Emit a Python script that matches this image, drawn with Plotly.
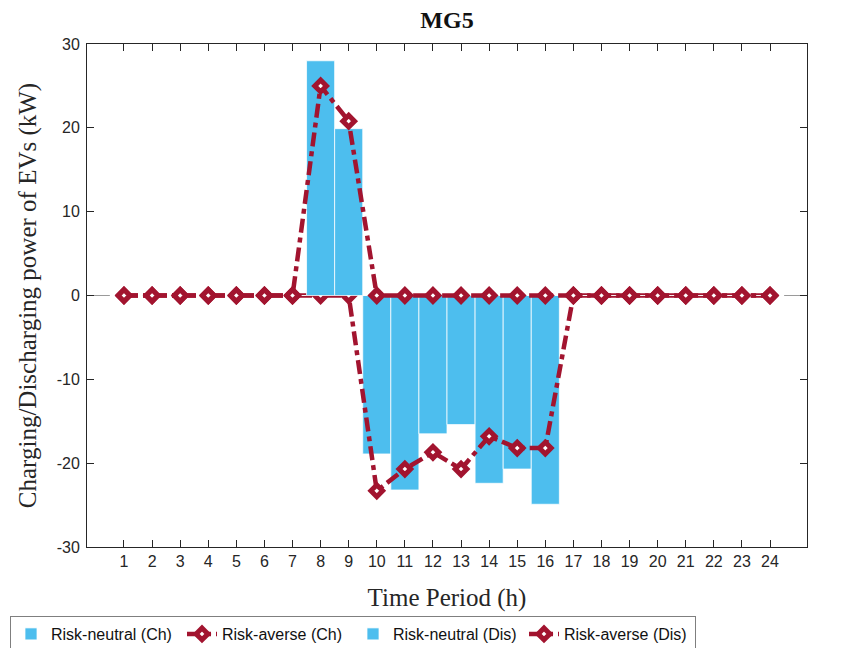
import plotly.graph_objects as go

hours = [1, 2, 3, 4, 5, 6, 7, 8, 9, 10, 11, 12, 13, 14, 15, 16, 17, 18, 19, 20, 21, 22, 23, 24]
rn_ch = [0, 0, 0, 0, 0, 0, 0, 28.0, 19.9, 0, 0, 0, 0, 0, 0, 0, 0, 0, 0, 0, 0, 0, 0, 0]
rn_dis = [0, 0, 0, 0, 0, 0, 0, 0, 0, -18.9, -23.2, -16.5, -15.4, -22.4, -20.7, -24.9, 0, 0, 0, 0, 0, 0, 0, 0]
ra_ch = [0, 0, 0, 0, 0, 0, 0, 25.0, 20.8, 0, 0, 0, 0, 0, 0, 0, 0, 0, 0, 0, 0, 0, 0, 0]
ra_dis = [0, 0, 0, 0, 0, 0, 0, 0, 0, -23.3, -20.7, -18.7, -20.7, -16.8, -18.2, -18.2, 0, 0, 0, 0, 0, 0, 0, 0]
y_ticks = [-30, -20, -10, 0, 10, 20, 30]
y_tick_labels = ["-30", "-20", "-10", "0", "10", "20", "30"]
x_tick_labels = [str(h) for h in hours]

BLUE = "#4DBEEE"
RED = "#A2142F"
DASH = "14px,5px,5px,5px"
marker_style = dict(symbol="diamond", size=9, color="white", line=dict(color=RED, width=5))
bar_line = dict(color="rgba(255,255,255,0.75)", width=1)

fig = go.Figure()
# lower layer: discharging
fig.add_trace(go.Bar(x=hours, y=rn_dis, width=1, name="Risk-neutral (Dis)",
                     marker=dict(color=BLUE, line=bar_line), legendrank=3,
                     xaxis="x", yaxis="y"))
fig.add_trace(go.Scatter(x=hours, y=ra_dis, mode="lines+markers", name="Risk-averse (Dis)",
                         line=dict(color=RED, width=4.5, dash=DASH), marker=marker_style,
                         legendrank=4, xaxis="x", yaxis="y"))
# upper layer: charging
fig.add_trace(go.Bar(x=hours, y=rn_ch, width=1, name="Risk-neutral (Ch)",
                     marker=dict(color=BLUE, line=bar_line), legendrank=1,
                     xaxis="x2", yaxis="y2"))
fig.add_trace(go.Scatter(x=hours, y=ra_ch, mode="lines+markers", name="Risk-averse (Ch)",
                         line=dict(color=RED, width=4.5, dash=DASH), marker=marker_style,
                         legendrank=2, xaxis="x2", yaxis="y2"))

xr = [-0.317, 25.317]
yr = [-30, 30]
tick_font = dict(family="Liberation Sans, Arial, sans-serif", size=16, color="#262626")
title_font = dict(family="Liberation Serif, Times New Roman, serif", size=25, color="#262626")

fig.update_layout(
    width=857, height=648,
    margin=dict(l=87, r=50, t=44, b=101),
    paper_bgcolor="white", plot_bgcolor="white",
    barmode="overlay",
    title=dict(text="<b>MG5</b>", x=0.5216, xref="container", xanchor="center",
               y=1 - 20 / 648, yref="container", yanchor="middle",
               font=dict(family="Liberation Serif, Times New Roman, serif", size=24, color="#111")),
    xaxis=dict(range=xr, tickvals=hours, ticktext=x_tick_labels, ticks="inside", ticklen=7,
               tickcolor="#262626", showline=True, linecolor="#262626", linewidth=1,
               mirror="ticks", showgrid=False, zeroline=False, tickfont=tick_font,
               automargin=False,
               title=dict(text="Time Period (h)", font=title_font, standoff=19)),
    yaxis=dict(range=yr, tickvals=y_ticks, ticktext=y_tick_labels, ticks="inside", ticklen=7,
               tickcolor="#262626", showline=True, linecolor="#262626", linewidth=1,
               mirror="ticks", showgrid=False, zeroline=True, zerolinecolor="#9a9a9a",
               zerolinewidth=1, tickfont=tick_font, ticklabelstandoff=3,
               automargin=False,
               title=dict(text="Charging/Discharging power of EVs (kW)", font=title_font, standoff=12)),
    xaxis2=dict(range=xr, overlaying="x", visible=False, showgrid=False, zeroline=False),
    yaxis2=dict(range=yr, overlaying="y", visible=False, showgrid=False, zeroline=False),
    legend=dict(orientation="h", x=10 / 857, xref="container", xanchor="left",
                y=1 - 616 / 648, yref="container", yanchor="top",
                bordercolor="#7f7f7f", borderwidth=1, bgcolor="white",
                entrywidth=126, entrywidthmode="pixels", itemwidth=30,
                font=dict(family="Liberation Sans, Arial, sans-serif", size=16, color="#111"),
                traceorder="normal"),
    showlegend=True,
)

fig.write_html("out.html", config={"displayModeBar": False},
               post_script="document.body.style.margin='0';")
